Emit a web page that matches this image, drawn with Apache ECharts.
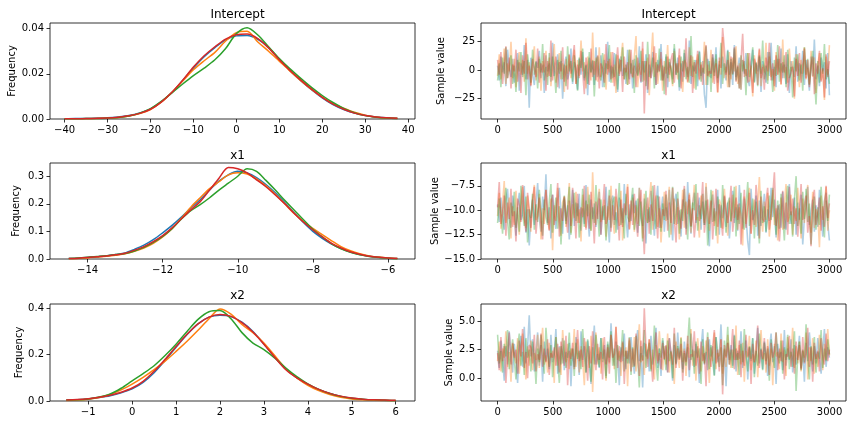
<!DOCTYPE html>
<html>
<head>
<meta charset="utf-8">
<script src="https://cdn.jsdelivr.net/npm/echarts@6/dist/echarts.min.js"></script>
<style>html,body{margin:0;padding:0;background:#fff}#c{width:856px;height:424px}</style>
</head>
<body>
<div id="c"></div>
<script>
// ---------- DATA ----------
const chainColors = ['#1f77b4', '#ff7f0e', '#2ca02c', '#d62728'];
const titles = ['Intercept', 'x1', 'x2'];

// KDE (left column)
const kdeInterceptX = [-40,-37.5,-35,-32.5,-30,-27.5,-25,-22.5,-20,-17.5,-15,-12.5,-10,-7.5,-5,-2.5,0,2.5,5,7.5,10,12.5,15,17.5,20,22.5,25,27.5,30,32.5,35,37.5];
const kdeInterceptBlue   = [0.0001,0.0002,0.0002,0.0003,0.0005,0.0009,0.0015,0.0027,0.0045,0.0076,0.0117,0.0170,0.0226,0.0276,0.0316,0.0350,0.0368,0.0370,0.0353,0.0316,0.0264,0.0214,0.0170,0.0130,0.0094,0.0064,0.0042,0.0026,0.0016,0.0009,0.0005,0.0002];
const kdeInterceptOrange = [0.0001,0.0001,0.0001,0.0002,0.0004,0.0007,0.0013,0.0024,0.0042,0.0074,0.0118,0.0168,0.0218,0.0258,0.0295,0.0345,0.0382,0.0388,0.0341,0.0300,0.0256,0.0212,0.0170,0.0131,0.0097,0.0068,0.0048,0.0030,0.0017,0.0009,0.0004,0.0002];
const kdeInterceptGreen  = [0.0001,0.0001,0.0002,0.0002,0.0004,0.0007,0.0013,0.0026,0.0046,0.0078,0.0116,0.0155,0.0192,0.0225,0.0262,0.0312,0.0378,0.0404,0.0372,0.0320,0.0268,0.0222,0.0180,0.0140,0.0104,0.0073,0.0047,0.0028,0.0015,0.0008,0.0004,0.0002];
const kdeInterceptRed    = [0.0001,0.0001,0.0002,0.0003,0.0004,0.0008,0.0014,0.0025,0.0043,0.0075,0.0118,0.0172,0.0230,0.0280,0.0320,0.0354,0.0373,0.0376,0.0356,0.0315,0.0262,0.0215,0.0172,0.0132,0.0096,0.0066,0.0043,0.0026,0.0015,0.0009,0.0005,0.0003];

const kdeX1X = [-14.5,-14.25,-14,-13.75,-13.5,-13.25,-13,-12.75,-12.5,-12.25,-12,-11.75,-11.5,-11.25,-11,-10.75,-10.5,-10.25,-10,-9.75,-9.5,-9.25,-9,-8.75,-8.5,-8.25,-8,-7.75,-7.5,-7.25,-7,-6.75,-6.5,-6.25,-6,-5.75];
const kdeX1Blue   = [0.002,0.003,0.005,0.008,0.011,0.016,0.022,0.035,0.050,0.070,0.095,0.122,0.152,0.185,0.215,0.250,0.282,0.305,0.318,0.312,0.295,0.270,0.240,0.205,0.168,0.132,0.100,0.075,0.054,0.038,0.025,0.016,0.010,0.006,0.003,0.002];
const kdeX1Orange = [0.001,0.002,0.004,0.007,0.010,0.014,0.019,0.028,0.040,0.057,0.080,0.110,0.148,0.188,0.222,0.255,0.280,0.305,0.313,0.308,0.290,0.265,0.235,0.200,0.165,0.135,0.111,0.088,0.066,0.045,0.030,0.019,0.011,0.007,0.004,0.002];
const kdeX1Green  = [0.002,0.004,0.006,0.009,0.012,0.016,0.020,0.029,0.042,0.060,0.082,0.110,0.145,0.175,0.197,0.222,0.250,0.275,0.300,0.327,0.318,0.285,0.250,0.213,0.178,0.142,0.108,0.080,0.055,0.037,0.024,0.015,0.009,0.005,0.003,0.001];
const kdeX1Red    = [0.002,0.003,0.005,0.008,0.011,0.015,0.021,0.032,0.045,0.063,0.085,0.113,0.146,0.178,0.208,0.250,0.293,0.332,0.327,0.312,0.287,0.262,0.232,0.200,0.166,0.134,0.105,0.080,0.057,0.040,0.026,0.017,0.010,0.006,0.004,0.002];

const kdeX2X = [-1.5,-1.25,-1,-0.75,-0.5,-0.25,0,0.25,0.5,0.75,1,1.25,1.5,1.75,2,2.25,2.5,2.75,3,3.25,3.5,3.75,4,4.25,4.5,4.75,5,5.25,5.5,5.75,6];
const kdeX2Blue   = [0.003,0.005,0.009,0.015,0.023,0.035,0.052,0.080,0.122,0.175,0.232,0.287,0.333,0.362,0.370,0.364,0.340,0.300,0.246,0.190,0.138,0.100,0.072,0.049,0.032,0.020,0.012,0.007,0.004,0.002,0.001];
const kdeX2Orange = [0.002,0.004,0.008,0.015,0.028,0.048,0.073,0.102,0.135,0.172,0.214,0.258,0.305,0.355,0.397,0.375,0.330,0.295,0.250,0.195,0.140,0.100,0.068,0.045,0.028,0.016,0.009,0.005,0.003,0.002,0.001];
const kdeX2Green  = [0.003,0.005,0.009,0.017,0.030,0.055,0.087,0.118,0.152,0.196,0.245,0.300,0.352,0.385,0.390,0.355,0.295,0.250,0.222,0.185,0.142,0.105,0.074,0.050,0.032,0.020,0.012,0.008,0.005,0.003,0.002];
const kdeX2Red    = [0.004,0.006,0.010,0.016,0.025,0.038,0.056,0.085,0.128,0.180,0.235,0.288,0.333,0.362,0.373,0.365,0.338,0.298,0.245,0.188,0.135,0.100,0.073,0.050,0.033,0.021,0.013,0.008,0.005,0.004,0.003];

// Traces (right column): 200 samples per chain, spread over iterations 0..2999
const traceInterceptBlue = [
4,-9,12,-2,7,-14,18,3,-6,10,-11,1,15,-18,6,-4,22,-8,9,-33,
11,-3,-13,8,2,17,-7,5,-20,13,-1,6,-10,24,-5,0,14,-16,8,-25,
3,12,-8,-1,19,-12,7,2,-17,10,-4,16,-9,5,-22,11,-2,8,-13,20,
-6,1,13,-15,9,-3,25,-10,4,-7,15,-1,-19,7,12,-5,2,-12,18,-8,
6,-16,10,0,-4,21,-11,8,-2,14,-20,5,-7,16,3,-13,9,-1,23,-9,
-3,12,-15,7,1,-8,19,-4,11,-18,6,-10,15,2,-6,26,-12,4,-1,9,
-14,17,-5,8,-21,-33,10,3,-7,14,-2,20,-11,5,-16,12,0,-9,18,-4,
7,-13,22,-6,1,11,-17,9,-3,15,-8,-14,4,18,-10,6,-1,13,-19,8,
2,-11,16,-5,24,-9,3,-15,10,-2,19,-7,5,-12,14,-20,8,1,-6,21,
-10,6,-3,17,-13,9,0,-18,12,-5,27,-8,4,-14,11,-1,7,-16,15,-22];
const traceInterceptOrange = [
-5,14,-8,3,19,-12,6,-1,25,-7,10,-15,2,16,-4,9,-10,28,-3,7,
-13,5,21,-9,1,12,-18,8,-2,17,-6,11,-14,4,23,-11,0,15,-8,6,
-19,10,-3,13,-7,2,18,-12,9,-5,26,-1,7,-16,12,3,-9,33,-4,11,
-10,20,-6,1,14,-17,8,-2,16,-11,5,-20,13,-3,9,24,-8,2,-13,18,
-1,-7,12,30,-15,6,-4,19,-9,3,11,-22,7,33,-6,15,-12,1,10,-18,
8,-3,22,-10,4,-14,17,2,-8,13,-1,-19,9,6,-11,20,-5,12,-16,3,
14,-9,7,-2,25,-13,5,-6,18,-11,1,10,-20,8,-4,29,-7,3,-15,16,
-8,11,-1,21,-12,6,-17,9,2,-5,15,-10,4,-23,13,-3,7,18,-14,5,
-2,24,-9,12,-6,1,-18,16,-4,10,-13,27,-7,3,-11,19,-1,8,-25,14,
6,-15,9,-3,20,-8,2,-12,17,-6,11,-20,5,15,-9,1,-26,12,-4,22];
const traceInterceptGreen = [
-9,6,-15,11,-3,20,-7,1,13,-12,4,-19,9,-1,16,-6,8,-22,14,2,
-11,18,-4,7,-16,10,-2,23,-9,3,-13,15,-6,12,0,-20,9,-3,17,-8,
5,-14,21,-1,8,-10,13,-5,-18,11,2,19,-7,4,-12,16,-2,9,-23,7,
12,-4,-9,15,-15,6,1,22,-11,3,-6,14,-17,10,-1,20,-8,5,-13,18,
-3,9,-20,13,-5,2,17,-10,8,-14,25,-6,0,11,-16,7,-2,19,-9,4,
-21,14,-7,10,1,-12,23,-4,6,-15,12,-1,18,-8,3,-11,30,-6,9,-17,
5,16,-10,2,-3,21,-13,8,-19,11,-5,14,-7,1,24,-12,6,-2,17,-15,
10,-4,19,-9,3,-16,13,-1,8,-22,15,-6,2,20,-11,7,-14,12,-3,26,
-8,4,-12,16,1,-19,9,-5,22,-10,6,-2,13,-15,18,-7,3,-24,11,-1,
14,-9,5,-18,20,-4,10,-13,2,17,-6,-30,8,-11,15,-3,23,-8,1,-12];
const traceInterceptRed = [
9,-4,16,-12,2,21,-7,11,-16,5,-1,18,-10,7,-20,13,-3,24,-8,4,
-14,10,1,-6,19,-11,6,-2,15,-18,8,-5,26,-9,3,12,-15,7,-1,20,
-10,4,-17,14,-3,9,22,-12,5,-7,17,-1,-21,11,2,-13,19,-6,8,-9,
13,-16,6,1,-11,23,-4,10,-8,16,-14,3,20,-5,9,-19,12,-2,7,-12,
18,-6,4,-15,11,0,-10,25,-38,8,-17,14,-7,2,21,-13,5,-1,16,-9,
3,-22,12,-4,9,15,-11,6,-2,19,-16,8,-6,28,-10,1,13,-20,7,-3,
17,-8,5,-13,10,22,-5,-1,-3,14,-12,6,-19,11,2,37,18,-4,9,-15,
12,-3,20,-10,4,-16,8,32,-6,1,-11,15,-2,-20,10,5,-13,19,-7,3,
-17,11,-1,24,-9,6,-14,13,-4,21,-12,7,-2,16,-18,-7,-8,3,-23,10,
-5,15,-11,1,19,-7,9,-15,4,12,-21,6,-3,17,-10,2,-24,14,-6,8];

const traceX1Blue = [
-9.4,-11.2,-8.7,-10.5,-12.0,-9.1,-7.8,-10.9,-11.8,-8.5,-10.2,-12.6,-9.6,-8.2,-11.0,-10.4,-7.5,-12.3,-9.9,-13.6,
-10.7,-8.9,-11.5,-9.3,-7.2,-10.8,-12.2,-8.6,-10.0,-6.3,-11.3,-9.7,-12.9,-8.4,-10.5,-11.9,-9.0,-7.7,-10.3,-12.4,
-8.8,-11.1,-9.5,-13.0,-10.1,-7.9,-11.6,-9.2,-10.6,-8.3,-12.1,-9.8,-11.4,-7.4,-10.4,-12.7,-8.9,-10.9,-9.3,-11.7,
-10.0,-8.1,-12.5,-9.6,-11.0,-7.6,-10.7,-13.3,-9.1,-8.5,-11.5,-10.2,-12.0,-8.7,-9.8,-11.3,-7.3,-10.6,-12.8,-9.4,
-11.1,-8.4,-10.3,-9.0,-12.3,-7.7,-10.8,-11.6,-8.8,-13.4,-9.9,-11.2,-8.0,-10.5,-12.6,-9.3,-7.5,-11.8,-10.1,-8.6,
-12.2,-9.7,-11.0,-7.9,-10.4,-13.1,-9.2,-8.3,-11.4,-10.0,-12.7,-8.9,-9.6,-11.9,-7.1,-10.7,-12.4,-9.4,-8.2,-11.3,
-10.2,-8.7,-12.0,-9.1,-11.5,-7.6,-10.9,-13.7,-9.8,-8.4,-11.1,-10.3,-7.9,-12.5,-9.5,-10.8,-8.6,-11.7,-9.2,-12.9,
-10.5,-8.0,-11.3,-9.7,-12.1,-7.4,-10.1,-11.9,-8.8,-10.6,-13.2,-14.6,-7.8,-11.0,-10.4,-8.5,-12.6,-9.0,-11.6,-10.2,
-8.3,-12.3,-9.9,-11.1,-7.7,-10.7,-8.9,-12.8,-10.0,-9.4,-11.8,-8.1,-10.6,-12.0,-9.6,-7.3,-11.4,-10.3,-8.7,-12.5,
-9.2,-11.0,-8.4,-13.5,-10.8,-9.7,-7.6,-11.5,-10.1,-8.9,-12.2,-9.5,-11.7,-7.9,-10.4,-12.7,-9.1,-8.2,-11.3,-13.1];
const traceX1Orange = [
-10.6,-8.2,-11.9,-9.4,-7.0,-11.3,-10.1,-8.7,-12.9,-9.6,-11.5,-8.0,-10.4,-12.5,-9.1,-7.6,-10.9,-11.8,-8.5,-10.2,
-12.2,-9.0,-7.4,-11.0,-10.6,-8.3,-13.0,-9.8,-11.4,-7.9,-10.3,-12.0,-8.8,-14.1,-9.5,-11.1,-7.7,-10.7,-12.6,-9.2,
-8.6,-11.7,-10.0,-7.2,-12.3,-9.4,-10.8,-8.1,-11.3,-9.9,-13.2,-8.4,-10.5,-11.8,-7.6,-9.7,-12.1,-6.1,-10.2,-11.5,
-9.3,-7.8,-11.2,-10.4,-8.9,-12.7,-9.6,-11.0,-7.5,-10.7,-12.4,-8.6,-9.9,-11.6,-8.0,-13.1,-10.1,-9.2,-7.3,-11.9,
-10.5,-8.7,-12.2,-9.5,-11.4,-7.7,-10.0,-12.9,-8.3,-10.8,-11.3,-9.0,-7.1,-12.0,-10.3,-8.5,-11.7,-9.8,-13.3,-10.6,
-8.1,-11.1,-9.4,-7.6,-12.5,-10.2,-8.8,-11.5,-9.7,-13.0,-10.9,-7.9,-11.8,-9.1,-10.4,-8.2,-12.3,-9.6,-7.4,-11.0,
-10.7,-12.8,-8.5,-9.9,-11.3,-7.2,-10.5,-12.1,-9.3,-8.0,-11.6,-10.1,-13.4,-8.9,-9.5,-11.9,-7.8,-10.3,-12.6,-9.0,
-11.2,-8.4,-10.8,-7.5,-12.0,-9.7,-10.4,-13.6,-8.6,-11.4,-9.2,-7.7,-12.4,-10.0,-8.9,-11.7,-9.4,-6.6,-10.6,-12.2,
-9.1,-11.0,-8.2,-12.7,-10.3,-7.9,-11.5,-9.8,-13.1,-10.5,-8.7,-12.0,-9.3,-7.3,-11.2,-10.7,-8.4,-12.5,-9.6,-11.1,
-7.7,-10.2,-12.9,-8.8,-11.3,-9.5,-7.4,-10.9,-12.3,-8.1,-11.8,-9.9,-10.4,-13.8,-8.5,-11.0,-9.2,-7.6,-12.1,-10.0];
const traceX1Green = [
-11.3,-8.8,-10.2,-12.4,-9.5,-7.7,-11.0,-13.0,-9.2,-10.6,-8.1,-11.8,-9.7,-12.2,-7.5,-10.4,-11.6,-8.6,-13.3,-9.9,
-10.8,-8.3,-12.0,-9.4,-11.2,-7.9,-10.1,-12.6,-8.9,-10.7,-11.5,-9.1,-7.3,-12.3,-10.3,-8.7,-11.9,-9.6,-13.5,-10.0,
-8.5,-11.4,-9.8,-7.6,-12.5,-10.5,-8.2,-11.1,-9.3,-12.8,-10.9,-7.8,-11.7,-9.0,-10.6,-8.4,-12.1,-9.7,-11.3,-7.4,
-10.2,-12.7,-8.9,-11.0,-9.5,-13.1,-10.4,-7.9,-11.8,-9.2,-8.6,-12.3,-10.0,-7.2,-11.5,-9.8,-12.9,-8.3,-10.7,-11.2,
-9.4,-7.7,-12.0,-10.5,-8.8,-11.6,-9.1,-13.2,-10.2,-8.0,-11.3,-9.7,-12.5,-7.5,-10.8,-11.9,-8.5,-10.1,-12.2,-9.3,
-11.0,-8.4,-10.6,-12.8,-9.6,-7.6,-11.4,-10.3,-8.1,-12.4,-9.9,-11.1,-7.8,-10.7,-13.0,-8.9,-11.7,-9.2,-10.0,-7.3,
-12.1,-9.5,-10.9,-8.3,-11.5,-9.0,-13.6,-10.4,-7.9,-11.2,-9.8,-12.6,-8.6,-10.1,-11.8,-7.4,-10.6,-12.3,-9.3,-8.7,
-11.1,-10.0,-7.6,-12.7,-9.4,-11.4,-8.2,-10.8,-12.0,-9.7,-7.1,-11.6,-10.3,-8.8,-12.9,-9.1,-10.5,-13.4,-8.0,-11.3,
-9.6,-12.2,-10.7,-8.5,-11.0,-7.7,-10.2,-12.5,-9.0,-11.9,-8.3,-10.6,-13.1,-9.4,-7.5,-11.4,-10.1,-12.7,-8.9,-6.5,
-11.6,-9.8,-12.4,-8.1,-10.9,-7.8,-11.2,-9.3,-13.5,-10.4,-8.6,-12.0,-9.7,-11.5,-7.6,-10.3,-12.8,-9.0,-11.1,-8.4];
const traceX1Red = [
-9.7,-7.1,-11.4,-10.3,-8.5,-12.6,-9.2,-10.9,-7.8,-11.7,-10.1,-13.2,-8.8,-9.5,-11.2,-7.4,-10.6,-12.2,-8.2,-10.0,
-11.8,-9.1,-7.6,-12.4,-10.4,-8.7,-11.0,-13.0,-9.6,-7.9,-10.8,-12.1,-9.3,-8.4,-11.5,-10.2,-7.2,-12.7,-9.8,-11.1,
-8.6,-10.5,-12.3,-9.0,-11.6,-7.7,-10.0,-12.9,-8.3,-11.3,-9.7,-10.7,-7.5,-12.0,-9.4,-11.9,-8.1,-10.3,-13.4,-9.1,
-10.9,-8.8,-12.5,-9.9,-7.3,-11.4,-10.6,-8.5,-12.2,-9.5,-11.0,-7.8,-10.2,-13.1,-8.9,-11.7,-9.3,-10.5,-7.6,-12.0,
-9.0,-11.5,-8.3,-10.8,-12.7,-9.6,-7.9,-11.2,-14.5,-10.1,-8.7,-12.4,-9.4,-11.1,-7.4,-10.4,-12.9,-8.6,-11.8,-9.9,
-10.6,-8.0,-12.1,-9.2,-11.3,-7.7,-10.9,-13.3,-8.8,-10.3,-11.9,-9.5,-7.5,-12.5,-10.0,-8.4,-11.6,-9.8,-12.8,-10.7,
-8.2,-11.1,-9.7,-7.1,-12.3,-10.5,-8.9,-11.4,-9.0,-13.0,-10.2,-7.8,-11.7,-9.4,-10.8,-12.6,-8.5,-10.1,-11.3,-9.6,
-7.5,-12.2,-10.4,-8.7,-11.0,-9.3,-13.5,-10.6,-7.9,-11.8,-9.9,-8.2,-12.4,-10.0,-11.5,-7.4,-9.7,-12.9,-8.6,-10.9,
-11.2,-9.1,-7.7,-12.0,-10.3,-8.4,-6.1,-11.6,-9.5,-13.2,-10.7,-8.0,-11.9,-9.2,-12.5,-7.6,-10.5,-8.8,-11.4,-9.8,
-12.7,-10.1,-7.3,-11.0,-9.4,-8.5,-12.3,-10.6,-13.7,-9.0,-7.9,-11.5,-10.2,-8.7,-12.1,-9.6,-11.7,-7.5,-10.8,-9.3];

const traceX2Blue = [
2.4,0.9,3.3,1.6,-0.2,2.8,1.2,4.1,2.0,0.5,3.0,1.7,-0.4,2.5,3.7,1.0,4.5,1.3,2.7,5.5,
1.9,3.4,0.6,2.2,4.0,1.1,2.9,-0.3,3.2,1.5,2.6,0.8,3.8,1.4,2.1,4.3,0.4,2.8,1.2,3.5,
0.7,2.3,1.8,3.1,-0.7,2.6,1.0,3.6,2.0,0.3,4.1,1.6,2.8,0.5,3.3,1.9,-0.5,2.4,4.6,1.2,
2.1,0.9,3.5,1.7,2.9,0.2,3.0,1.4,4.8,2.3,1.1,3.2,2.0,-0.6,2.7,1.5,3.9,0.8,2.4,1.3,
3.6,1.8,0.4,2.9,4.2,1.5,2.2,-0.8,3.1,1.9,2.5,0.6,3.7,1.2,2.0,4.4,0.9,2.6,0.2,3.3,
1.6,2.8,0.5,3.5,2.1,-0.2,2.9,1.3,4.0,1.8,2.4,0.8,3.2,1.5,2.7,0.1,3.9,2.2,1.0,3.0,
1.7,-0.4,2.6,4.3,1.2,2.3,0.7,3.4,1.9,2.8,0.3,3.6,1.4,2.1,4.7,1.0,2.5,-0.7,3.1,1.6,
2.9,1.1,3.8,0.6,2.4,1.7,4.1,0.9,2.2,3.3,-0.1,2.7,1.5,3.5,0.4,2.0,4.4,1.3,2.6,0.8,
3.2,1.9,0.2,2.5,3.9,1.4,2.8,-0.5,3.0,1.8,2.3,0.7,4.2,1.1,2.6,1.6,3.4,0.5,2.9,1.2,
2.0,3.7,0.9,2.4,-0.3,3.1,1.5,4.0,2.2,0.6,2.8,1.3,3.5,1.9,0.4,2.5,4.3,1.0,2.7,1.8];
const traceX2Orange = [
1.5,3.2,0.6,2.6,1.8,4.1,1.0,2.3,-0.3,3.0,2.0,1.3,3.5,0.4,2.4,3.9,1.7,-0.1,2.8,1.1,
3.3,0.7,2.2,1.6,3.8,0.9,2.5,4.4,1.2,2.0,0.5,3.1,1.8,2.4,-0.4,3.6,1.1,2.7,0.3,4.2,
2.1,1.4,3.0,0.8,2.6,1.9,4.3,1.0,3.4,0.5,2.8,1.6,-0.6,3.2,2.1,0.9,3.7,-1.2,2.3,4.0,
1.2,2.7,0.4,3.5,1.8,-0.2,2.9,1.3,3.8,2.2,0.8,4.5,1.6,2.4,0.2,3.1,1.9,2.7,-0.7,3.3,
2.3,1.0,3.6,0.6,2.5,4.7,1.4,2.0,0.3,3.0,1.7,3.4,0.8,2.5,-0.1,2.9,1.5,4.1,2.1,0.7,
2.8,1.2,3.9,0.5,2.3,1.6,-0.5,3.2,2.0,0.9,3.6,1.4,2.6,0.2,3.0,1.8,4.3,1.1,2.4,-0.2,
3.5,1.7,0.6,2.8,1.3,3.3,2.1,-0.4,2.7,1.5,4.0,0.8,2.2,1.9,3.4,0.4,2.6,1.0,3.8,2.3,
0.9,2.5,1.6,4.6,0.3,2.9,1.2,3.1,-0.3,2.4,1.8,3.7,0.7,2.1,1.4,3.3,0.1,2.7,4.2,1.6,
2.2,0.5,3.4,1.1,2.6,-0.6,3.0,1.9,2.3,0.8,3.9,1.4,2.5,0.2,3.6,1.7,2.0,4.4,0.9,2.8,
1.3,3.2,0.6,2.4,1.8,4.0,-0.1,2.7,1.5,3.5,0.4,2.1,1.0,3.8,2.4,0.7,3.0,1.6,4.3,2.0];
const traceX2Green = [
3.8,1.3,2.4,0.5,3.0,1.9,4.2,0.8,2.1,3.4,1.6,-0.1,2.7,3.9,1.1,2.3,0.3,3.5,1.8,2.5,
0.6,3.2,2.0,-0.5,2.6,1.4,3.8,2.2,0.4,4.4,2.3,1.0,2.9,0.1,2.1,3.6,1.5,-0.4,2.8,1.3,
3.3,0.9,1.9,4.0,1.1,2.6,0.2,3.1,1.7,2.4,0.8,4.3,2.2,0.5,3.4,1.6,-0.3,2.7,1.2,3.8,
2.0,1.0,3.5,1.4,2.5,0.0,3.2,1.8,4.1,1.1,2.6,-0.4,2.9,1.5,2.1,4.2,0.6,2.4,1.3,3.6,
0.3,2.7,1.0,3.7,1.9,-0.8,2.8,1.6,4.2,0.9,2.3,3.1,0.6,1.9,4.6,1.4,-0.2,2.6,1.8,3.5,
2.1,0.7,3.3,1.5,2.4,0.0,3.9,1.2,2.8,1.7,3.5,0.5,2.2,1.1,3.0,5.3,1.6,2.5,0.4,3.2,
1.8,2.6,-0.5,3.4,1.3,2.1,4.0,0.8,2.9,1.5,0.2,3.6,2.3,1.0,2.7,-0.6,3.3,1.9,4.5,1.2,
2.5,0.9,3.7,1.6,2.2,0.3,3.0,1.4,4.3,2.0,0.6,2.8,1.7,3.5,0.1,2.4,1.1,3.9,2.2,0.7,
3.1,1.5,2.6,-0.2,3.4,1.8,0.9,4.0,2.1,1.3,3.3,0.4,2.7,1.6,3.8,0.8,2.3,1.0,4.1,-1.1,
2.0,3.2,0.7,2.5,1.4,4.7,1.9,-0.1,2.8,1.2,3.6,0.5,2.3,1.7,4.2,0.9,2.6,1.5,3.4,2.1];
const traceX2Red = [
2.2,0.7,3.6,1.5,2.8,-0.4,2.0,4.0,1.2,3.1,1.8,2.5,0.4,3.3,1.9,4.3,0.9,2.3,0.0,2.9,
2.7,1.3,3.8,0.6,2.1,1.6,3.9,1.0,2.6,1.4,3.4,0.3,2.2,1.8,2.7,1.1,3.0,0.5,3.2,2.0,
1.1,3.7,-0.6,2.4,1.7,3.1,0.8,2.2,4.2,1.5,2.5,1.0,3.5,1.9,-0.2,2.8,1.3,4.1,2.0,0.7,
3.0,1.6,2.3,-0.1,3.6,1.2,2.7,0.4,3.8,1.8,2.1,4.5,0.9,2.8,1.4,3.2,-0.5,2.4,1.7,3.5,
0.6,2.6,1.1,3.9,2.0,0.2,3.3,1.5,6.1,2.7,1.0,3.4,1.8,-0.3,2.5,4.0,1.3,2.2,0.8,3.1,
1.7,2.9,0.5,3.5,2.3,1.2,4.4,0.9,2.6,1.6,3.0,-0.2,2.4,1.4,3.7,0.7,2.1,1.9,4.1,1.1,
2.8,0.4,3.2,1.5,2.2,-0.7,3.6,2.0,1.0,2.7,4.2,1.3,2.5,0.6,3.4,-1.4,2.9,1.8,3.1,1.2,
2.3,4.3,0.8,2.6,1.6,3.3,0.1,2.4,1.1,3.8,1.9,2.7,-0.5,3.0,1.4,2.2,4.6,0.9,2.5,1.7,
3.5,1.2,2.8,0.3,3.1,1.8,2.4,4.0,0.7,2.6,1.5,3.3,-0.1,2.1,1.9,3.7,1.0,2.6,0.4,3.2,
1.6,2.9,0.8,3.6,1.3,2.2,4.4,1.0,2.7,-0.3,3.1,1.7,2.4,0.6,3.5,2.0,1.2,3.9,1.5,2.5];

// Tick values
const kdeXTicks = [[-40,-30,-20,-10,0,10,20,30,40],[-14,-12,-10,-8,-6],[-1,0,1,2,3,4,5,6]];
const kdeYTicks = [[0,0.02,0.04],[0,0.1,0.2,0.3],[0,0.2,0.4]];
const kdeYDecimals = [2,1,1];
const traceXTicks = [0,500,1000,1500,2000,2500,3000];
const traceYTicks = [[-25,0,25],[-15,-12.5,-10,-7.5],[0,2.5,5]];
const traceYDecimals = [0,1,1];
const lastIteration = 2999;

// ---------- LAYOUT ----------
const rowTop = [23, 163, 304];
const rowHeight = [96, 96, 97];
const leftX = 50, rightX = 481, panelW = 365;
const kdeXRange = [[-43.4, 41.6], [-15.0, -5.28], [-1.87, 6.44]];
const kdeYMax = [0.0425, 0.348, 0.4185];
const traceXRange = [-150, 3149];
const traceYRange = [[-42.8, 41.4], [-15.0, -5.15], [-1.98, 6.48]];
const freqGap = [32, 29, 26];
const sampleGap = [35, 39, 27];
const titleTop = [4, 145, 285];

const kdeData = [
  [kdeInterceptX, [kdeInterceptBlue, kdeInterceptOrange, kdeInterceptGreen, kdeInterceptRed]],
  [kdeX1X, [kdeX1Blue, kdeX1Orange, kdeX1Green, kdeX1Red]],
  [kdeX2X, [kdeX2Blue, kdeX2Orange, kdeX2Green, kdeX2Red]]
];
const traceData = [
  [traceInterceptBlue, traceInterceptOrange, traceInterceptGreen, traceInterceptRed],
  [traceX1Blue, traceX1Orange, traceX1Green, traceX1Red],
  [traceX2Blue, traceX2Orange, traceX2Green, traceX2Red]
];

const FONT = 'DejaVu Sans';
const fmt = (d) => (v) => Number(v).toFixed(d).replace('-', '\u2212');

function makeAxis(gridIndex, min, max, ticks, decimals, extra) {
  return Object.assign({
    type: 'value', gridIndex, min, max,
    axisLine: { show: false, onZero: false },
    splitLine: { show: false },
    axisTick: { show: true, inside: false, length: 3.5, customValues: ticks, lineStyle: { color: '#000', width: 0.8 } },
    axisLabel: { customValues: ticks, formatter: fmt(decimals), color: '#000', fontSize: 10, fontFamily: FONT, margin: 6 }
  }, extra || {});
}

const grid = [], xAxis = [], yAxis = [], series = [], title = [];
for (let r = 0; r < 3; r++) {
  // KDE grid
  const gk = grid.length;
  grid.push({ left: leftX, top: rowTop[r], width: panelW, height: rowHeight[r], show: true, borderColor: '#000', borderWidth: 0.8, backgroundColor: 'transparent' });
  xAxis.push(makeAxis(gk, kdeXRange[r][0], kdeXRange[r][1], kdeXTicks[r], 0));
  yAxis.push(makeAxis(gk, 0, kdeYMax[r], kdeYTicks[r], kdeYDecimals[r], {
    name: 'Frequency', nameLocation: 'middle', nameGap: freqGap[r], nameRotate: 90,
    nameTextStyle: { color: '#000', fontSize: 10, fontFamily: FONT }
  }));
  const [kx, kys] = kdeData[r];
  kys.forEach((ys, c) => {
    series.push({
      type: 'line', xAxisIndex: gk, yAxisIndex: gk, symbol: 'none', smooth: 0.3,
      lineStyle: { color: chainColors[c], width: 1.5 }, itemStyle: { color: chainColors[c] },
      data: kx.map((x, i) => [x, ys[i]]), silent: true, z: 2 + c
    });
  });
  // Trace grid
  const gt = grid.length;
  grid.push({ left: rightX, top: rowTop[r], width: panelW, height: rowHeight[r], show: true, borderColor: '#000', borderWidth: 0.8, backgroundColor: 'transparent' });
  xAxis.push(makeAxis(gt, traceXRange[0], traceXRange[1], traceXTicks, 0));
  yAxis.push(makeAxis(gt, traceYRange[r][0], traceYRange[r][1], traceYTicks[r], traceYDecimals[r], {
    name: 'Sample value', nameLocation: 'middle', nameGap: sampleGap[r], nameRotate: 90,
    nameTextStyle: { color: '#000', fontSize: 10, fontFamily: FONT }
  }));
  traceData[r].forEach((ys, c) => {
    const n = ys.length;
    series.push({
      type: 'line', xAxisIndex: gt, yAxisIndex: gt, symbol: 'none',
      lineStyle: { color: chainColors[c], width: 1.6, opacity: 0.35 }, itemStyle: { color: chainColors[c] },
      data: ys.map((v, i) => [Math.round(i * lastIteration / (n - 1)), v]), silent: true, z: 2 + c
    });
  });
  title.push({ text: titles[r], left: leftX + panelW / 2, top: titleTop[r], textAlign: 'center', textStyle: { fontSize: 12, fontWeight: 'normal', color: '#000', fontFamily: FONT } });
  title.push({ text: titles[r], left: rightX + panelW / 2, top: titleTop[r], textAlign: 'center', textStyle: { fontSize: 12, fontWeight: 'normal', color: '#000', fontFamily: FONT } });
}

const chart = echarts.init(document.getElementById('c'), null, { renderer: 'canvas' });
chart.setOption({ animation: false, backgroundColor: '#fff', title, grid, xAxis, yAxis, series });
</script>
</body>
</html>
